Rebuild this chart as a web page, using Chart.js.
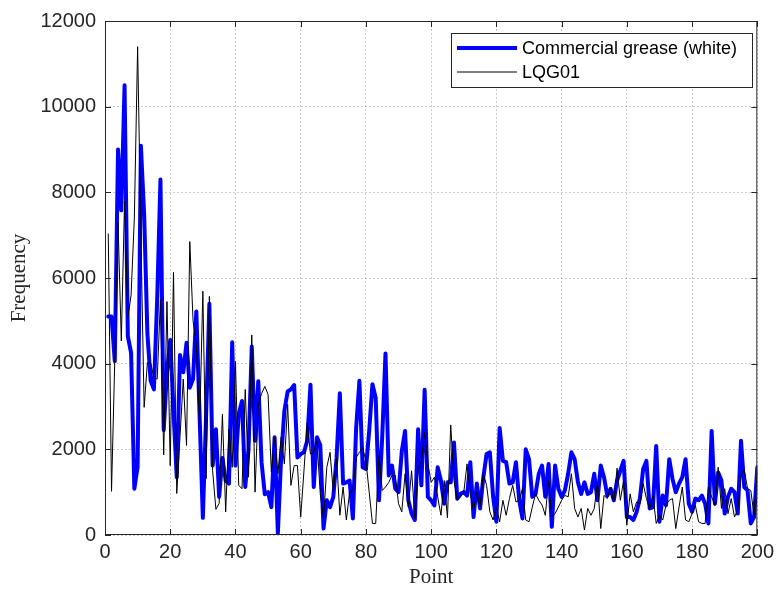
<!DOCTYPE html>
<html>
<head>
<meta charset="utf-8">
<script src="https://cdn.jsdelivr.net/npm/chart.js@4.4.1/dist/chart.umd.min.js"></script>
<style>
  html, body { margin: 0; padding: 0; background: #fff; }
</style>
</head>
<body>
<canvas id="freqChart" width="779" height="590"></canvas>
<script>
// values, point 1..200
const greaseWhite = [
  5100, 5100, 4060, 9000, 7580, 10500, 4640, 4250, 1080, 1590,
  9090, 7500, 4700, 3600, 3400, 5500, 8300, 2450, 3800, 4550,
  2900, 1350, 4200, 3800, 4490, 3440, 3640, 5220, 2800, 400,
  2800, 5400, 1620, 2470, 890, 1800, 1270, 1200, 4500, 1620,
  2820, 3130, 1120, 2000, 4400, 2200, 3590, 1700, 950, 1000,
  650, 2280, 40, 1800, 2900, 3350, 3400, 3500, 1810, 1890,
  1930, 2200, 3510, 1120, 2280, 2100, 150, 810, 650, 890,
  1800, 3310, 1200, 1230, 1270, 385, 2500, 3600, 1580, 1540,
  2430, 3520, 3200, 810, 2300, 4240, 1390, 1620, 1080, 1000,
  1960, 2430, 810, 500, 350, 2470, 1160, 3390, 890, 810,
  690, 1580, 1270, 730, 1230, 1230, 2160, 850, 960, 1000,
  920, 1700, 420, 1200, 620, 1350, 1890, 1930, 890, 310,
  2500, 1730, 1700, 1200, 1230, 1700, 810, 385, 2000, 1770,
  890, 960, 1430, 1620, 890, 1660, 190, 1620, 1080, 890,
  1040, 1430, 1930, 1770, 1230, 960, 1230, 960, 1000, 1430,
  810, 1620, 1350, 920, 1080, 810, 1270, 1500, 1730, 420,
  420, 350, 540, 850, 1540, 1730, 620, 650, 2080, 310,
  920, 690, 1770, 1310, 1000, 1200, 1350, 1770, 730, 540,
  850, 810, 920, 730, 270, 2430, 730, 1460, 1270, 500,
  890, 1080, 1000, 500, 2200, 1120, 1040, 270, 420, 1580
];

const lqg01 = [
  7040, 1020, 4100, 7300, 4530, 7800, 5070, 5600, 7400, 11400,
  7000, 2980, 4020, 4020, 3670, 3640, 5490, 1870, 5450, 1620,
  6130, 970, 2300, 3640, 2090, 6850, 5000, 4450, 2510, 5690,
  1315, 5570, 1500, 600, 740, 2820, 540, 2470, 1580, 4050,
  1160, 1080, 3400, 1350, 4670, 1000, 3050, 3300, 3470, 3280,
  1470, 2280, 1430, 2280, 1660, 3050, 1160, 1620, 1620, 420,
  1500, 2620, 1890, 1930, 2200, 960, 385, 1580, 1930, 1000,
  1810, 460, 1120, 350, 1000, 1040, 1810, 1930, 2040, 1730,
  1000, 270, 270, 1850, 1040, 1120, 1230, 1390, 1390, 730,
  540, 1430, 650, 1500, 385, 1580, 1700, 2390, 1660, 1230,
  1350, 890, 460, 1270, 400, 2570, 1270, 810, 890, 1000,
  1660, 960, 580, 1000, 650, 1430, 1160, 540, 350, 650,
  310, 810, 460, 850, 1160, 770, 810, 1080, 350, 310,
  650, 960, 810, 700, 460, 1270, 420, 500, 650, 810,
  925, 890, 1430, 620, 420, 620, 115, 620, 460, 620,
  1230, 150, 925, 850, 1120, 770, 1560, 810, 1270, 230,
  960, 540, 770, 730, 1200, 850, 600, 925, 270, 460,
  350, 700, 810, 850, 150, 650, 1120, 350, 310, 500,
  690, 310, 270, 270, 1120, 890, 690, 1580, 620, 1080,
  500, 850, 420, 580, 1390, 1520, 1080, 1040, 460, 1500
];

const xTicks = [0, 20, 40, 60, 80, 100, 120, 140, 160, 180, 200];
const yTicks = [0, 2000, 4000, 6000, 8000, 10000, 12000];
const seriesNames = ['Commercial grease (white)', 'LQG01'];

const toPoints = arr => arr.map((v, i) => ({ x: i + 1, y: v }));

const axisColor = '#262626';
const tickFont = { family: '"Liberation Sans", Arial, sans-serif', size: 20 };
const titleFont = { family: '"Liberation Serif", "Times New Roman", serif', size: 21 };

// box, inner ticks and the legend, drawn MATLAB style
const frameAndLegend = {
  id: 'frameAndLegend',
  afterDraw(chart) {
    const { ctx, chartArea: a, scales: { x, y } } = chart;
    ctx.save();
    ctx.strokeStyle = axisColor;
    ctx.lineWidth = 1;
    ctx.strokeRect(a.left + 0.5, a.top + 0.5, a.right - a.left - 1, a.bottom - a.top - 1);

    const tl = 6;
    ctx.beginPath();
    xTicks.forEach(v => {
      const px = Math.round(x.getPixelForValue(v)) + 0.5;
      ctx.moveTo(px, a.bottom); ctx.lineTo(px, a.bottom - tl);
      ctx.moveTo(px, a.top); ctx.lineTo(px, a.top + tl);
    });
    yTicks.forEach(v => {
      const py = Math.round(y.getPixelForValue(v)) + 0.5;
      ctx.moveTo(a.left, py); ctx.lineTo(a.left + tl, py);
      ctx.moveTo(a.right, py); ctx.lineTo(a.right - tl, py);
    });
    ctx.stroke();

    // legend box
    const lx = 451, ly = 33, lw = 301, lh = 54;
    ctx.fillStyle = '#fff';
    ctx.fillRect(lx, ly, lw, lh);
    ctx.strokeRect(lx + 0.5, ly + 0.5, lw, lh);
    ctx.font = '18px "Liberation Sans", Arial, sans-serif';
    ctx.textBaseline = 'middle';
    chart.data.datasets.forEach((ds, i) => {
      const rowY = ly + 15 + i * 24;
      ctx.strokeStyle = ds.borderColor;
      ctx.lineWidth = ds.borderWidth;
      ctx.beginPath();
      ctx.moveTo(lx + 6, rowY);
      ctx.lineTo(lx + 66, rowY);
      ctx.stroke();
      ctx.fillStyle = '#000';
      ctx.fillText(ds.label, lx + 71, rowY + 1);
    });
    ctx.restore();
  }
};

new Chart(document.getElementById('freqChart'), {
  type: 'line',
  data: {
    datasets: [
      {
        label: seriesNames[0],
        data: toPoints(greaseWhite),
        borderColor: '#0000ff',
        borderWidth: 4,
        pointRadius: 0,
        borderJoinStyle: 'round',
        borderCapStyle: 'round',
        order: 1
      },
      {
        label: seriesNames[1],
        data: toPoints(lqg01),
        borderColor: '#000000',
        borderWidth: 1,
        pointRadius: 0,
        order: 0
      }
    ]
  },
  options: {
    responsive: false,
    animation: false,
    layout: { padding: { top: 16, right: 17, left: 0, bottom: 0 } },
    plugins: { legend: { display: false }, tooltip: { enabled: false } },
    scales: {
      x: {
        type: 'linear',
        min: 0,
        max: 200,
        afterBuildTicks: s => { s.ticks = xTicks.map(v => ({ value: v })); },
        afterFit: s => { s.height = 55; },
        grid: { color: 'rgba(0,0,0,0.2)', drawTicks: false },
        border: { display: false, dash: [2, 2] },
        ticks: { color: axisColor, font: tickFont, padding: 5, maxRotation: 0, callback: v => String(v) },
        title: { display: true, text: 'Point', color: axisColor, font: titleFont, padding: { top: 0, bottom: 0 } }
      },
      y: {
        min: 0,
        max: 12000,
        afterBuildTicks: s => { s.ticks = yTicks.map(v => ({ value: v })); },
        afterFit: s => { s.width = 105; },
        grid: { color: 'rgba(0,0,0,0.2)', drawTicks: false },
        border: { display: false, dash: [2, 2] },
        ticks: { color: axisColor, font: tickFont, padding: 9, callback: v => String(v) },
        title: { display: true, text: 'Frequency', color: axisColor, font: titleFont, padding: { top: 7, bottom: 0 } }
      }
    }
  },
  plugins: [frameAndLegend]
});
</script>
</body>
</html>
